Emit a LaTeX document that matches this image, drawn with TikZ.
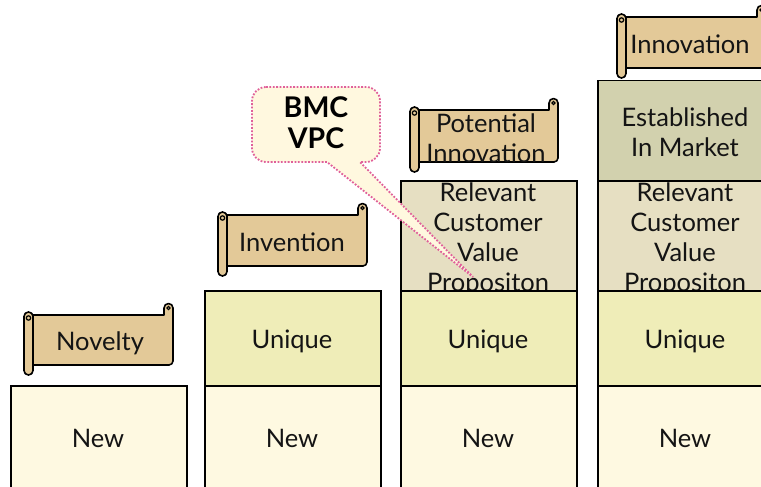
\documentclass[tikz,border=0pt]{standalone}
\usepackage{fontspec}
\setmainfont{Lato}
\definecolor{newc}{HTML}{FEF9E1}
\definecolor{uniqc}{HTML}{EFEDB8}
\definecolor{relc}{HTML}{E6DFC2}
\definecolor{estc}{HTML}{D2D1AE}
\definecolor{scrollc}{HTML}{E3C998}
\definecolor{callc}{HTML}{FFF8DF}
\definecolor{pinkc}{HTML}{E0609A}
\newcommand\ScrollShape[4]{%
  \filldraw[scrollst] ({#1+6},{-#2}) -- ({#3-9},{-#2}) -- ({#3-9},{-(#2-7)})
    arc[start angle=180,end angle=0,radius=4.5pt] -- ({#3},{-(#4-4)})
    arc[start angle=0,end angle=-90,radius=4pt] -- ({#1+6},{-#4}) -- cycle;
  \draw[line width=1.2pt] ({#3-4.5},{-(#2-7)}) circle (1.6pt);
  \filldraw[scrollst,rounded corners=4.4pt] ({#1},{-(#2-3)}) rectangle ({#1+9},{-(#4+10)});
  \draw[line width=1.2pt] ({#1+4.5},{-(#2+3)}) circle (2.2pt);
}
\begin{document}
\begin{tikzpicture}[x=1pt,y=1pt,
  box/.style={draw=black,line width=1.5pt,minimum width=176pt,anchor=north west,inner sep=0pt},
  lbl/.style={font=\fontsize{25.5}{30}\selectfont,align=center,inner sep=0pt,text=black!92},
  scrollst/.style={draw=black,line width=1.6pt,fill=scrollc,line join=round},
  callst/.style={draw=pinkc,line width=1.8pt,dash pattern=on 1.8pt off 1.6pt,fill=callc}]
\useasboundingbox (0,0) rectangle (761,-487);
% column 1
\node[box,fill=newc,minimum height=110pt] (n1) at (10,-385) {};
\node[lbl] (tn1) at (98,-438) {New};
% column 2
\node[box,fill=uniqc,minimum height=95pt] (u2) at (204,-290) {};
\node[lbl] (tu2) at (292,-341) {Unique};
\node[box,fill=newc,minimum height=110pt] (n2) at (204,-385) {};
\node[lbl] (tn2) at (292,-438) {New};
% column 3
\node[box,fill=relc,minimum height=110pt] (r3) at (400,-180) {};
\node[lbl] (tr3) at (488,-239) {Relevant\\Customer\\Value\\Propositon};
\node[box,fill=uniqc,minimum height=95pt] (u3) at (400,-290) {};
\node[lbl] (tu3) at (488,-341) {Unique};
\node[box,fill=newc,minimum height=110pt] (n3) at (400,-385) {};
\node[lbl] (tn3) at (488,-438) {New};
% column 4
\node[box,fill=estc,minimum height=100pt] (e4) at (597,-80) {};
\node[lbl] (te4) at (685,-132) {Established\\In Market};
\node[box,fill=relc,minimum height=110pt] (r4) at (597,-180) {};
\node[lbl] (tr4) at (685,-239) {Relevant\\Customer\\Value\\Propositon};
\node[box,fill=uniqc,minimum height=95pt] (u4) at (597,-290) {};
\node[lbl] (tu4) at (685,-341) {Unique};
\node[box,fill=newc,minimum height=110pt] (n4) at (597,-385) {};
\node[lbl] (tn4) at (685,-438) {New};
% scrolls
\ScrollShape{24}{315}{173}{365}
\node[lbl] (nov) at (100,-343) {Novelty};
\ScrollShape{218}{215}{367}{266}
\node[lbl] (inv) at (292,-242) {Invention};
\ScrollShape{410}{110}{558}{162}
\node[lbl] (pot) at (486,-138) {Potential\\Innovation};
\ScrollShape{617}{17}{766}{68}
\node[lbl] (inn) at (690,-44) {Innovation};
% callout
\filldraw[callst] (266,-87) -- (366,-87) arc[start angle=90,end angle=0,radius=14pt]
  -- (380,-148) arc[start angle=0,end angle=-90,radius=14pt]
  -- (360,-162) -- (473,-277) -- (327,-162) -- (266,-162)
  arc[start angle=270,end angle=180,radius=14pt] -- (252,-101)
  arc[start angle=180,end angle=90,radius=14pt] -- cycle;
\node[font=\bfseries\fontsize{28.5}{31}\selectfont,align=center,inner sep=0pt] (bmc) at (316,-123) {BMC\\VPC};
\end{tikzpicture}
\end{document}
